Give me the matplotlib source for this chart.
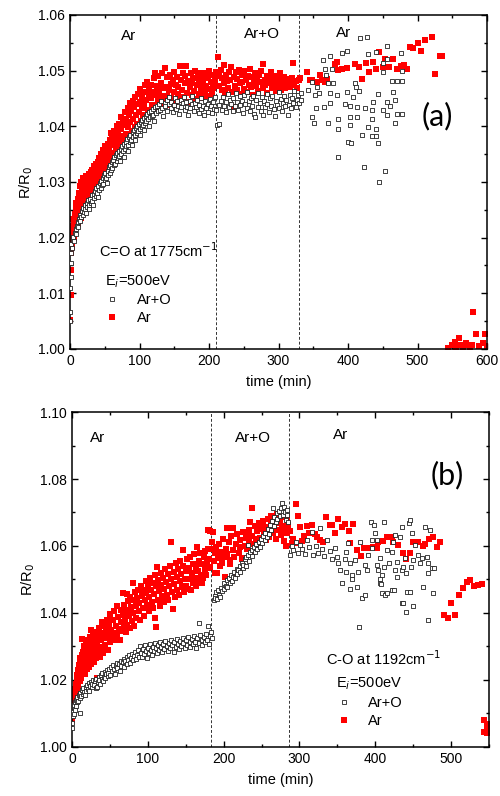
import numpy as np
import matplotlib
matplotlib.use('Agg')
import matplotlib.pyplot as plt
from matplotlib.ticker import MultipleLocator, FormatStrFormatter
from matplotlib.lines import Line2D

plt.rcParams['font.family'] = ['Liberation Sans', 'DejaVu Sans']

# ---------------- panel (a): C=O at 1775 cm-1 ----------------
# (time [min], R/R0)
a_aro = [
    (0, 1.0050), (0, 1.0066), (0, 1.0110), (1, 1.0130), (1, 1.0155), (2, 1.0172), (2, 1.0188), (3, 1.0181),
    (4, 1.0196), (5, 1.0202), (6, 1.0194), (7, 1.0208), (8, 1.0215), (9, 1.0206), (10, 1.0221), (11, 1.0228),
    (12, 1.0219), (13, 1.0233), (14, 1.0241), (15, 1.0229), (16, 1.0237), (17, 1.0248), (18, 1.0240), (19, 1.0253),
    (20, 1.0246), (21, 1.0258), (22, 1.0251), (23, 1.0244), (24, 1.0262), (25, 1.0255), (26, 1.0268), (27, 1.0259),
    (28, 1.0251), (29, 1.0270), (30, 1.0263), (31, 1.0276), (32, 1.0266), (33, 1.0259), (34, 1.0279), (35, 1.0271),
    (36, 1.0284), (37, 1.0275), (38, 1.0290), (39, 1.0281), (40, 1.0273), (41, 1.0293), (42, 1.0286), (43, 1.0298),
    (44, 1.0289), (45, 1.0302), (46, 1.0294), (47, 1.0308), (48, 1.0297), (49, 1.0312), (50, 1.0303), (51, 1.0317),
    (52, 1.0308), (53, 1.0298), (54, 1.0320), (55, 1.0312), (56, 1.0326), (57, 1.0316), (58, 1.0330), (59, 1.0321),
    (60, 1.0335), (61, 1.0325), (62, 1.0339), (63, 1.0330), (64, 1.0344), (65, 1.0333), (66, 1.0349), (67, 1.0338),
    (68, 1.0352), (69, 1.0343), (70, 1.0356), (71, 1.0347), (72, 1.0338), (73, 1.0360), (74, 1.0351), (75, 1.0364),
    (76, 1.0356), (77, 1.0345), (78, 1.0368), (79, 1.0360), (80, 1.0372), (81, 1.0364), (82, 1.0377), (83, 1.0367),
    (84, 1.0356), (85, 1.0381), (86, 1.0372), (87, 1.0385), (88, 1.0376), (89, 1.0366), (90, 1.0389), (91, 1.0380),
    (92, 1.0393), (93, 1.0384), (94, 1.0375), (95, 1.0397), (96, 1.0388), (97, 1.0401), (98, 1.0392), (99, 1.0405),
    (100, 1.0396), (101, 1.0384), (102, 1.0408), (103, 1.0399), (104, 1.0412), (105, 1.0403), (106, 1.0415), (107, 1.0394),
    (108, 1.0406), (109, 1.0419), (110, 1.0410), (111, 1.0422), (112, 1.0413), (113, 1.0401), (114, 1.0425), (115, 1.0416),
    (116, 1.0428), (118, 1.0419), (119, 1.0431), (120, 1.0421), (121, 1.0409), (123, 1.0434), (124, 1.0424), (125, 1.0437),
    (127, 1.0427), (128, 1.0440), (130, 1.0430), (131, 1.0445), (133, 1.0433), (134, 1.0419), (136, 1.0442), (137, 1.0436),
    (139, 1.0448), (140, 1.0428), (142, 1.0440), (143, 1.0452), (145, 1.0432), (146, 1.0444), (148, 1.0425), (150, 1.0438),
    (151, 1.0450), (153, 1.0431), (154, 1.0445), (156, 1.0436), (157, 1.0422), (159, 1.0447), (160, 1.0434), (162, 1.0441),
    (164, 1.0453), (165, 1.0429), (167, 1.0443), (168, 1.0435), (170, 1.0420), (172, 1.0446), (173, 1.0432), (175, 1.0440),
    (176, 1.0455), (178, 1.0427), (180, 1.0442), (181, 1.0434), (183, 1.0448), (185, 1.0424), (186, 1.0438), (188, 1.0431),
    (189, 1.0451), (191, 1.0436), (193, 1.0421), (194, 1.0445), (196, 1.0433), (198, 1.0440), (199, 1.0426), (201, 1.0449),
    (203, 1.0437), (204, 1.0423), (206, 1.0444), (207, 1.0431), (209, 1.0452), (210, 1.0430), (212, 1.0402), (214, 1.0404),
    (215, 1.0438), (217, 1.0446), (219, 1.0429), (220, 1.0452), (222, 1.0437), (224, 1.0444), (225, 1.0425), (227, 1.0458),
    (229, 1.0434), (230, 1.0447), (232, 1.0440), (234, 1.0427), (235, 1.0451), (237, 1.0436), (239, 1.0460), (240, 1.0443),
    (242, 1.0430), (244, 1.0454), (245, 1.0438), (247, 1.0446), (249, 1.0424), (250, 1.0457), (252, 1.0440), (254, 1.0433),
    (255, 1.0462), (257, 1.0445), (259, 1.0428), (260, 1.0450), (262, 1.0437), (264, 1.0455), (265, 1.0422), (266, 1.0417),
    (268, 1.0448), (270, 1.0434), (271, 1.0459), (273, 1.0441), (275, 1.0428), (276, 1.0452), (278, 1.0420), (279, 1.0446),
    (281, 1.0435), (283, 1.0458), (284, 1.0440), (286, 1.0426), (288, 1.0450), (289, 1.0437), (291, 1.0455), (293, 1.0431),
    (295, 1.0418), (296, 1.0445), (298, 1.0438), (300, 1.0461), (301, 1.0433), (303, 1.0449), (305, 1.0427), (306, 1.0442),
    (308, 1.0455), (310, 1.0436), (311, 1.0447), (313, 1.0420), (315, 1.0439), (316, 1.0457), (318, 1.0432), (320, 1.0450),
    (321, 1.0441), (323, 1.0463), (325, 1.0435), (326, 1.0448), (328, 1.0456), (330, 1.0442), (332, 1.0460), (333, 1.0447),
    (343, 1.0465), (348, 1.0480), (348, 1.0417), (351, 1.0406), (352, 1.0456), (354, 1.0433), (355, 1.0470), (358, 1.0460),
    (364, 1.0519), (365, 1.0434), (367, 1.0503), (368, 1.0492), (371, 1.0478), (371, 1.0406), (374, 1.0526), (374, 1.0460),
    (374, 1.0441), (377, 1.0503), (379, 1.0477), (384, 1.0456), (385, 1.0395), (385, 1.0345), (386, 1.0413), (391, 1.0531),
    (396, 1.0440), (398, 1.0535), (398, 1.0461), (400, 1.0372), (403, 1.0436), (403, 1.0417), (403, 1.0402), (405, 1.0370),
    (407, 1.0452), (410, 1.0478), (412, 1.0471), (413, 1.0434), (413, 1.0417), (416, 1.0463), (417, 1.0558), (420, 1.0384),
    (423, 1.0327), (424, 1.0433), (427, 1.0560), (429, 1.0530), (429, 1.0399), (435, 1.0429), (435, 1.0413), (435, 1.0382),
    (436, 1.0443), (440, 1.0395), (440, 1.0382), (441, 1.0533), (443, 1.0458), (443, 1.0370), (445, 1.0300), (450, 1.0513),
    (450, 1.0497), (450, 1.0430), (453, 1.0320), (456, 1.0544), (456, 1.0520), (456, 1.0443), (456, 1.0420), (460, 1.0436),
    (463, 1.0481), (465, 1.0461), (468, 1.0447), (468, 1.0406), (470, 1.0481), (470, 1.0422), (476, 1.0531), (477, 1.0500),
    (477, 1.0481), (478, 1.0422),
]

a_ar = [
    (0, 1.0052), (1, 1.0097), (1, 1.0142), (2, 1.0172), (2, 1.0188), (3, 1.0183), (3, 1.0204), (4, 1.0196),
    (4, 1.0221), (5, 1.0210), (5, 1.0234), (6, 1.0199), (6, 1.0226), (7, 1.0243), (7, 1.0215), (8, 1.0236),
    (8, 1.0252), (9, 1.0222), (9, 1.0262), (10, 1.0241), (10, 1.0230), (11, 1.0270), (11, 1.0249), (12, 1.0225),
    (12, 1.0258), (13, 1.0281), (13, 1.0240), (14, 1.0266), (14, 1.0292), (15, 1.0251), (15, 1.0275), (16, 1.0300),
    (16, 1.0236), (17, 1.0262), (17, 1.0284), (18, 1.0307), (18, 1.0255), (19, 1.0272), (19, 1.0291), (20, 1.0248),
    (20, 1.0280), (21, 1.0266), (21, 1.0303), (22, 1.0258), (22, 1.0287), (23, 1.0273), (23, 1.0310), (24, 1.0263),
    (24, 1.0295), (25, 1.0281), (25, 1.0269), (26, 1.0306), (26, 1.0287), (27, 1.0274), (27, 1.0296), (28, 1.0314),
    (28, 1.0280), (29, 1.0300), (29, 1.0289), (30, 1.0318), (30, 1.0277), (31, 1.0295), (31, 1.0307), (32, 1.0286),
    (32, 1.0322), (33, 1.0301), (34, 1.0291), (34, 1.0315), (35, 1.0328), (35, 1.0296), (36, 1.0310), (37, 1.0288),
    (37, 1.0333), (38, 1.0305), (38, 1.0320), (39, 1.0297), (40, 1.0336), (40, 1.0312), (41, 1.0326), (42, 1.0302),
    (42, 1.0343), (43, 1.0318), (44, 1.0333), (44, 1.0308), (45, 1.0350), (46, 1.0324), (46, 1.0340), (47, 1.0314),
    (48, 1.0358), (49, 1.0331), (49, 1.0347), (50, 1.0320), (51, 1.0364), (52, 1.0338), (52, 1.0354), (53, 1.0326),
    (54, 1.0368), (55, 1.0345), (56, 1.0361), (56, 1.0333), (57, 1.0375), (58, 1.0350), (59, 1.0388), (59, 1.0340),
    (60, 1.0366), (61, 1.0381), (62, 1.0352), (63, 1.0392), (63, 1.0370), (64, 1.0345), (65, 1.0385), (66, 1.0360),
    (67, 1.0400), (67, 1.0376), (68, 1.0354), (69, 1.0392), (70, 1.0368), (71, 1.0405), (72, 1.0383), (73, 1.0417),
    (73, 1.0362), (74, 1.0396), (75, 1.0378), (76, 1.0412), (77, 1.0370), (78, 1.0402), (79, 1.0425), (80, 1.0386),
    (81, 1.0414), (82, 1.0375), (83, 1.0432), (84, 1.0398), (85, 1.0420), (86, 1.0442), (86, 1.0383), (87, 1.0408),
    (88, 1.0428), (89, 1.0392), (90, 1.0445), (91, 1.0413), (92, 1.0434), (93, 1.0398), (94, 1.0452), (95, 1.0420),
    (96, 1.0440), (97, 1.0405), (98, 1.0458), (99, 1.0426), (100, 1.0444), (101, 1.0467), (102, 1.0410), (103, 1.0433),
    (104, 1.0452), (105, 1.0420), (106, 1.0462), (107, 1.0440), (108, 1.0474), (109, 1.0416), (110, 1.0448), (111, 1.0480),
    (112, 1.0430), (113, 1.0458), (114, 1.0468), (115, 1.0424), (116, 1.0450), (117, 1.0475), (118, 1.0438), (120, 1.0462),
    (121, 1.0486), (122, 1.0495), (123, 1.0433), (124, 1.0456), (125, 1.0472), (126, 1.0446), (127, 1.0490), (128, 1.0462),
    (130, 1.0440), (131, 1.0478), (132, 1.0454), (133, 1.0496), (134, 1.0468), (135, 1.0447), (137, 1.0504), (138, 1.0471),
    (139, 1.0455), (140, 1.0488), (141, 1.0438), (143, 1.0466), (144, 1.0492), (145, 1.0476), (146, 1.0450), (148, 1.0483),
    (149, 1.0461), (150, 1.0498), (151, 1.0443), (153, 1.0474), (154, 1.0489), (155, 1.0458), (156, 1.0470), (158, 1.0508),
    (159, 1.0447), (160, 1.0483), (161, 1.0465), (163, 1.0496), (164, 1.0452), (165, 1.0477), (166, 1.0490), (167, 1.0508),
    (168, 1.0460), (170, 1.0482), (171, 1.0444), (172, 1.0470), (174, 1.0495), (175, 1.0456), (176, 1.0478), (177, 1.0487),
    (179, 1.0463), (180, 1.0499), (181, 1.0449), (183, 1.0475), (184, 1.0491), (185, 1.0458), (186, 1.0481), (188, 1.0468),
    (189, 1.0496), (190, 1.0451), (191, 1.0477), (193, 1.0489), (194, 1.0462), (195, 1.0495), (196, 1.0473), (198, 1.0455),
    (199, 1.0486), (200, 1.0500), (201, 1.0467), (203, 1.0480), (204, 1.0458), (205, 1.0493), (206, 1.0468), (208, 1.0487),
    (209, 1.0476), (210, 1.0498), (213, 1.0524), (214, 1.0490), (215, 1.0472), (217, 1.0501), (218, 1.0465), (219, 1.0486),
    (221, 1.0478), (222, 1.0510), (223, 1.0459), (225, 1.0493), (226, 1.0481), (228, 1.0468), (229, 1.0497), (230, 1.0484),
    (232, 1.0506), (233, 1.0462), (235, 1.0434), (236, 1.0489), (237, 1.0473), (239, 1.0498), (240, 1.0466), (241, 1.0485),
    (243, 1.0502), (244, 1.0477), (246, 1.0458), (247, 1.0492), (248, 1.0480), (250, 1.0467), (251, 1.0499), (253, 1.0484),
    (254, 1.0461), (256, 1.0490), (257, 1.0474), (259, 1.0503), (260, 1.0470), (262, 1.0488), (263, 1.0457), (265, 1.0481),
    (266, 1.0496), (268, 1.0472), (269, 1.0486), (271, 1.0463), (272, 1.0493), (274, 1.0479), (275, 1.0500), (277, 1.0468),
    (278, 1.0512), (280, 1.0483), (281, 1.0474), (283, 1.0491), (284, 1.0460), (286, 1.0486), (287, 1.0477), (289, 1.0497),
    (290, 1.0468), (292, 1.0482), (293, 1.0471), (295, 1.0490), (296, 1.0463), (298, 1.0479), (299, 1.0486), (301, 1.0472),
    (302, 1.0495), (304, 1.0466), (305, 1.0481), (307, 1.0474), (308, 1.0488), (310, 1.0469), (311, 1.0480), (313, 1.0476),
    (315, 1.0485), (316, 1.0470), (318, 1.0478), (319, 1.0487), (321, 1.0513), (323, 1.0474), (325, 1.0482), (327, 1.0469),
    (330, 1.0483), (331, 1.0487), (341, 1.0497), (345, 1.0483), (348, 1.0483), (355, 1.0480), (360, 1.0492), (362, 1.0483),
    (367, 1.0480), (370, 1.0485), (381, 1.0512), (384, 1.0515), (386, 1.0501), (391, 1.0503), (398, 1.0504), (410, 1.0512),
    (416, 1.0507), (420, 1.0485), (426, 1.0514), (430, 1.0497), (436, 1.0516), (440, 1.0503), (445, 1.0533), (450, 1.0506),
    (453, 1.0520), (459, 1.0507), (465, 1.0520), (470, 1.0503), (476, 1.0508), (481, 1.0510), (485, 1.0503), (489, 1.0542),
    (494, 1.0540), (501, 1.0550), (505, 1.0535), (511, 1.0555), (521, 1.0560), (525, 1.0494), (532, 1.0526), (535, 1.0526),
    (544, 1.0002), (549, 1.0007), (554, 1.0013), (556, 1.0004), (559, 1.0020), (562, 1.0008), (566, 1.0004), (570, 1.0010),
    (573, 1.0007), (575, 1.0003), (578, 1.0008), (580, 1.0066), (584, 1.0027), (588, 1.0006), (594, 1.0010), (597, 1.0027),
    (600, 1.0005),
]

# ---------------- panel (b): C-O at 1192 cm-1 ----------------
b_aro = [
    (0, 1.0058), (0, 1.0072), (1, 1.0092), (1, 1.0104), (2, 1.0118), (2, 1.0098), (3, 1.0126), (4, 1.0110),
    (4, 1.0135), (5, 1.0122), (5, 1.0141), (6, 1.0133), (7, 1.0150), (8, 1.0138), (9, 1.0156), (10, 1.0101),
    (10, 1.0147), (11, 1.0162), (12, 1.0152), (13, 1.0170), (14, 1.0158), (15, 1.0176), (16, 1.0163), (17, 1.0155),
    (18, 1.0180), (19, 1.0168), (20, 1.0186), (21, 1.0173), (22, 1.0190), (23, 1.0166), (24, 1.0182), (25, 1.0195),
    (26, 1.0178), (27, 1.0188), (28, 1.0200), (29, 1.0185), (30, 1.0196), (31, 1.0177), (32, 1.0204), (33, 1.0180),
    (34, 1.0193), (35, 1.0209), (36, 1.0199), (37, 1.0188), (38, 1.0214), (39, 1.0203), (40, 1.0220), (41, 1.0196),
    (42, 1.0210), (43, 1.0224), (44, 1.0206), (45, 1.0217), (46, 1.0229), (47, 1.0211), (48, 1.0222), (49, 1.0234),
    (50, 1.0216), (52, 1.0240), (53, 1.0227), (54, 1.0246), (55, 1.0232), (57, 1.0219), (58, 1.0243), (59, 1.0252),
    (60, 1.0236), (62, 1.0248), (63, 1.0226), (64, 1.0258), (65, 1.0242), (67, 1.0253), (68, 1.0262), (69, 1.0238),
    (70, 1.0256), (72, 1.0268), (73, 1.0248), (74, 1.0260), (75, 1.0275), (77, 1.0252), (78, 1.0266), (79, 1.0278),
    (80, 1.0259), (82, 1.0271), (83, 1.0284), (84, 1.0262), (86, 1.0276), (87, 1.0289), (88, 1.0268), (90, 1.0300),
    (91, 1.0281), (92, 1.0270), (94, 1.0292), (95, 1.0278), (96, 1.0303), (98, 1.0286), (99, 1.0266), (100, 1.0296),
    (102, 1.0282), (103, 1.0306), (104, 1.0290), (106, 1.0274), (107, 1.0299), (108, 1.0287), (110, 1.0310), (111, 1.0294),
    (112, 1.0280), (114, 1.0303), (115, 1.0289), (116, 1.0313), (118, 1.0297), (119, 1.0284), (120, 1.0306), (122, 1.0292),
    (123, 1.0316), (125, 1.0300), (126, 1.0286), (128, 1.0309), (129, 1.0295), (131, 1.0320), (132, 1.0303), (134, 1.0284),
    (135, 1.0312), (137, 1.0298), (138, 1.0323), (140, 1.0306), (141, 1.0291), (143, 1.0315), (144, 1.0302), (146, 1.0326),
    (147, 1.0309), (149, 1.0295), (150, 1.0318), (152, 1.0304), (153, 1.0329), (155, 1.0312), (156, 1.0298), (158, 1.0321),
    (159, 1.0307), (161, 1.0332), (162, 1.0314), (164, 1.0296), (165, 1.0324), (167, 1.0310), (168, 1.0370), (169, 1.0335),
    (171, 1.0318), (172, 1.0303), (174, 1.0327), (175, 1.0313), (177, 1.0338), (178, 1.0320), (180, 1.0362), (181, 1.0306),
    (182, 1.0330), (183, 1.0342), (185, 1.0325),
    (187, 1.0440), (188, 1.0452), (189, 1.0446), (190, 1.0462), (191, 1.0441), (193, 1.0470), (194, 1.0455), (195, 1.0448),
    (197, 1.0476), (198, 1.0465), (200, 1.0489), (201, 1.0471), (203, 1.0482), (204, 1.0498), (205, 1.0478), (207, 1.0505),
    (208, 1.0490), (210, 1.0512), (211, 1.0496), (212, 1.0507), (214, 1.0523), (215, 1.0504), (217, 1.0530), (218, 1.0517),
    (219, 1.0528), (221, 1.0541), (222, 1.0522), (224, 1.0548), (225, 1.0535), (226, 1.0543), (228, 1.0560), (229, 1.0540),
    (230, 1.0566), (232, 1.0603), (232, 1.0573), (234, 1.0556), (235, 1.0582), (237, 1.0588), (238, 1.0570), (240, 1.0596),
    (241, 1.0582), (243, 1.0605), (244, 1.0590), (246, 1.0612), (248, 1.0597), (249, 1.0620), (251, 1.0610), (252, 1.0630),
    (254, 1.0618), (255, 1.0640), (257, 1.0628), (258, 1.0652), (260, 1.0637), (261, 1.0662), (263, 1.0648), (264, 1.0674),
    (265, 1.0713), (266, 1.0660), (267, 1.0688), (269, 1.0672), (270, 1.0698), (271, 1.0680), (273, 1.0705), (274, 1.0690),
    (276, 1.0712), (277, 1.0728), (278, 1.0694), (279, 1.0716), (281, 1.0700), (282, 1.0679), (283, 1.0708), (284, 1.0692),
    (285, 1.0672),
    (288, 1.0573), (290, 1.0600), (292, 1.0588), (295, 1.0612), (298, 1.0580), (301, 1.0603), (304, 1.0592), (307, 1.0575),
    (310, 1.0618), (313, 1.0598), (317, 1.0642), (318, 1.0573), (322, 1.0600), (325, 1.0579), (327, 1.0654), (330, 1.0590),
    (333, 1.0570), (336, 1.0618), (340, 1.0585), (343, 1.0560), (347, 1.0594), (349, 1.0567), (351, 1.0549), (354, 1.0528),
    (356, 1.0490), (360, 1.0560), (361, 1.0522), (362, 1.0582), (364, 1.0609), (367, 1.0549), (367, 1.0472), (369, 1.0513),
    (369, 1.0500), (373, 1.0558), (376, 1.0478), (377, 1.0522), (379, 1.0358), (380, 1.0612), (382, 1.0445), (387, 1.0543),
    (387, 1.0454), (389, 1.0528), (391, 1.0573), (394, 1.0672), (396, 1.0618), (396, 1.0594), (398, 1.0663), (400, 1.0639),
    (402, 1.0618), (402, 1.0543), (403, 1.0528), (406, 1.0564), (406, 1.0500), (406, 1.0490), (408, 1.0487), (409, 1.0513),
    (409, 1.0460), (411, 1.0537), (412, 1.0672), (413, 1.0454), (415, 1.0588), (416, 1.0460), (418, 1.0550), (422, 1.0582),
    (422, 1.0469), (424, 1.0612), (425, 1.0469), (426, 1.0633), (426, 1.0528), (428, 1.0552), (428, 1.0507), (433, 1.0627),
    (435, 1.0657), (435, 1.0528), (435, 1.0430), (436, 1.0537), (436, 1.0430), (439, 1.0564), (440, 1.0403), (441, 1.0519),
    (442, 1.0463), (444, 1.0669), (446, 1.0678), (446, 1.0463), (447, 1.0537), (449, 1.0639), (450, 1.0558), (450, 1.0421),
    (452, 1.0603), (456, 1.0573), (459, 1.0550), (461, 1.0564), (463, 1.0478), (466, 1.0657), (468, 1.0567), (470, 1.0549),
    (470, 1.0519), (470, 1.0379), (472, 1.0648), (475, 1.0534), (476, 1.0460), (477, 1.0534),
]

b_ar = [
    (0, 1.0080), (0, 1.0095), (1, 1.0118), (1, 1.0132), (2, 1.0148), (2, 1.0126), (3, 1.0162), (3, 1.0141),
    (4, 1.0172), (4, 1.0155), (5, 1.0187), (5, 1.0163), (6, 1.0201), (6, 1.0176), (7, 1.0192), (7, 1.0215),
    (8, 1.0183), (8, 1.0230), (9, 1.0205), (9, 1.0244), (10, 1.0196), (10, 1.0252), (11, 1.0218), (11, 1.0265),
    (12, 1.0238), (12, 1.0207), (13, 1.0322), (13, 1.0275), (14, 1.0226), (14, 1.0251), (15, 1.0283), (15, 1.0240),
    (16, 1.0300), (16, 1.0263), (17, 1.0218), (17, 1.0278), (18, 1.0295), (18, 1.0246), (19, 1.0310), (19, 1.0268),
    (20, 1.0232), (20, 1.0288), (21, 1.0256), (21, 1.0318), (22, 1.0274), (22, 1.0240), (23, 1.0301), (23, 1.0262),
    (24, 1.0329), (24, 1.0283), (25, 1.0248), (25, 1.0350), (26, 1.0292), (26, 1.0266), (27, 1.0312), (28, 1.0276),
    (28, 1.0338), (29, 1.0255), (29, 1.0298), (30, 1.0320), (31, 1.0284), (31, 1.0265), (32, 1.0343), (33, 1.0205),
    (33, 1.0306), (34, 1.0275), (35, 1.0330), (36, 1.0292), (36, 1.0355), (37, 1.0268), (38, 1.0318), (39, 1.0298),
    (39, 1.0372), (40, 1.0340), (41, 1.0282), (42, 1.0325), (43, 1.0360), (44, 1.0305), (45, 1.0345), (46, 1.0378),
    (47, 1.0290), (48, 1.0332), (49, 1.0365), (50, 1.0312), (50, 1.0398), (52, 1.0350), (53, 1.0322), (54, 1.0380),
    (55, 1.0340), (56, 1.0405), (57, 1.0318), (58, 1.0362), (59, 1.0420), (60, 1.0335), (61, 1.0388), (62, 1.0352),
    (63, 1.0320), (64, 1.0408), (65, 1.0372), (66, 1.0345), (67, 1.0460), (67, 1.0395), (68, 1.0358), (69, 1.0425),
    (70, 1.0380), (71, 1.0342), (72, 1.0458), (72, 1.0410), (73, 1.0365), (74, 1.0435), (75, 1.0392), (76, 1.0355),
    (77, 1.0448), (78, 1.0418), (79, 1.0375), (80, 1.0438), (81, 1.0490), (81, 1.0400), (82, 1.0362), (83, 1.0462),
    (84, 1.0420), (85, 1.0385), (86, 1.0445), (87, 1.0470), (88, 1.0405), (89, 1.0430), (90, 1.0378), (91, 1.0482),
    (92, 1.0450), (93, 1.0415), (94, 1.0468), (95, 1.0392), (96, 1.0438), (97, 1.0495), (98, 1.0460), (99, 1.0425),
    (100, 1.0478), (101, 1.0405), (102, 1.0448), (103, 1.0505), (104, 1.0470), (105, 1.0432), (106, 1.0490), (107, 1.0415),
    (108, 1.0458), (109, 1.0512), (110, 1.0385), (111, 1.0358), (111, 1.0480), (112, 1.0537), (113, 1.0440), (114, 1.0498),
    (115, 1.0465), (116, 1.0422), (117, 1.0520), (118, 1.0485), (119, 1.0450), (120, 1.0505), (121, 1.0432), (122, 1.0472),
    (123, 1.0530), (124, 1.0492), (125, 1.0455), (126, 1.0515), (127, 1.0440), (128, 1.0480), (129, 1.0540), (130, 1.0612),
    (131, 1.0500), (132, 1.0462), (133, 1.0412), (134, 1.0522), (135, 1.0488), (136, 1.0448), (137, 1.0548), (138, 1.0508),
    (139, 1.0470), (140, 1.0530), (141, 1.0455), (142, 1.0495), (143, 1.0556), (144, 1.0515), (145, 1.0478), (146, 1.0540),
    (147, 1.0588), (148, 1.0462), (149, 1.0502), (150, 1.0525), (151, 1.0482), (152, 1.0560), (153, 1.0472), (154, 1.0535),
    (155, 1.0500), (156, 1.0568), (157, 1.0470), (158, 1.0518), (159, 1.0545), (160, 1.0490), (161, 1.0575), (162, 1.0505),
    (163, 1.0538), (164, 1.0482), (165, 1.0597), (166, 1.0525), (167, 1.0555), (168, 1.0498), (169, 1.0580), (170, 1.0512),
    (171, 1.0545), (172, 1.0490), (173, 1.0504), (174, 1.0568), (175, 1.0528), (176, 1.0585), (177, 1.0512), (178, 1.0552),
    (179, 1.0590), (180, 1.0535), (180, 1.0648), (181, 1.0560), (182, 1.0537), (182, 1.0645),
    (184, 1.0590), (185, 1.0612), (186, 1.0642), (187, 1.0555), (188, 1.0578), (189, 1.0520), (190, 1.0598), (191, 1.0520),
    (192, 1.0565), (194, 1.0605), (195, 1.0540), (196, 1.0582), (198, 1.0550), (199, 1.0620), (200, 1.0568), (202, 1.0508),
    (203, 1.0592), (204, 1.0654), (205, 1.0575), (207, 1.0612), (208, 1.0545), (209, 1.0558), (210, 1.0630), (212, 1.0588),
    (213, 1.0654), (214, 1.0568), (216, 1.0605), (217, 1.0520), (218, 1.0635), (220, 1.0580), (221, 1.0597), (222, 1.0618),
    (224, 1.0560), (225, 1.0642), (226, 1.0564), (228, 1.0600), (229, 1.0625), (230, 1.0633), (231, 1.0590), (233, 1.0648),
    (234, 1.0612), (235, 1.0672), (236, 1.0585), (237, 1.0713), (238, 1.0630), (240, 1.0605), (241, 1.0660), (243, 1.0622),
    (244, 1.0645), (245, 1.0598), (247, 1.0668), (248, 1.0625), (249, 1.0650), (251, 1.0612), (252, 1.0675), (253, 1.0640),
    (255, 1.0658), (256, 1.0618), (258, 1.0682), (259, 1.0645), (260, 1.0628), (262, 1.0665), (263, 1.0690), (265, 1.0638),
    (266, 1.0672), (267, 1.0655), (269, 1.0620), (270, 1.0669), (271, 1.0695), (273, 1.0648), (274, 1.0678), (276, 1.0632),
    (277, 1.0660), (278, 1.0688), (280, 1.0615), (281, 1.0650), (282, 1.0600), (283, 1.0687), (284, 1.0640), (285, 1.0662),
    (288, 1.0645), (290, 1.0610), (292, 1.0622), (294, 1.0610), (295, 1.0725), (298, 1.0690), (301, 1.0657), (303, 1.0615),
    (306, 1.0630), (310, 1.0660), (313, 1.0640), (316, 1.0663), (320, 1.0635), (323, 1.0627), (327, 1.0618), (331, 1.0612),
    (335, 1.0687), (340, 1.0663), (343, 1.0663), (347, 1.0640), (351, 1.0680), (356, 1.0657), (360, 1.0666), (365, 1.0645),
    (367, 1.0610), (371, 1.0666), (376, 1.0588), (381, 1.0570), (385, 1.0594), (391, 1.0594), (397, 1.0597), (402, 1.0594),
    (404, 1.0612), (410, 1.0615), (415, 1.0627), (419, 1.0627), (422, 1.0627), (424, 1.0612), (430, 1.0603), (437, 1.0579),
    (441, 1.0561), (446, 1.0579), (450, 1.0612), (456, 1.0612), (463, 1.0600), (466, 1.0606), (471, 1.0621), (476, 1.0627),
    (481, 1.0597), (485, 1.0612), (490, 1.0394), (496, 1.0385), (500, 1.0430), (505, 1.0394), (511, 1.0454), (516, 1.0475),
    (521, 1.0493), (525, 1.0499), (530, 1.0481), (536, 1.0484), (541, 1.0487),
    (543, 1.0080), (543, 1.0045), (545, 1.0045), (547, 1.0060), (547, 1.0070), (548, 1.0042),
]

a_switch = [210, 330]
b_switch = [183, 286]


def style_axes(ax, xmax, ymin, ymax, ymajor, yminor):
    ax.set_xlim(0, xmax)
    ax.set_ylim(ymin, ymax)
    ax.xaxis.set_major_locator(MultipleLocator(100))
    ax.xaxis.set_minor_locator(MultipleLocator(50))
    ax.yaxis.set_major_locator(MultipleLocator(ymajor))
    ax.yaxis.set_minor_locator(MultipleLocator(yminor))
    ax.yaxis.set_major_formatter(FormatStrFormatter('%.2f'))
    ax.tick_params(which='both', direction='in', top=True, right=True, labelsize=10, width=1)
    ax.tick_params(which='major', length=4)
    ax.tick_params(which='minor', length=2.5)
    for s in ax.spines.values():
        s.set_linewidth(1.1)
    ax.set_xlabel('time (min)', fontsize=10.5, labelpad=5)
    ax.set_ylabel('R/R$_0$', fontsize=10.5, labelpad=2)


def draw(ax, aro, ar):
    ar = np.array(ar).T
    aro = np.array(aro).T
    ax.scatter(ar[0], ar[1], s=14, marker='s', color='#ff0000', linewidths=0, zorder=2)
    ax.scatter(aro[0], aro[1], s=10, marker='s', facecolors='white', edgecolors='#222222',
               linewidths=0.6, zorder=3)


def add_legend(ax, anchor):
    h = [Line2D([], [], ls='none', marker='s', ms=3.2, mfc='white', mec='#222222', mew=0.6),
         Line2D([], [], ls='none', marker='s', ms=3.8, mfc='#ff0000', mec='#ff0000', mew=0)]
    leg = ax.legend(h, ['Ar+O', 'Ar'], title='E$_i$=500eV', loc='upper left', bbox_to_anchor=anchor,
                    frameon=False, fontsize=10.5, title_fontsize=10.5, handlelength=1.0,
                    handletextpad=1.2, labelspacing=0.25, borderaxespad=0, alignment='left')
    return leg


fig = plt.figure(figsize=(5, 7.96), dpi=100)
ax1 = fig.add_axes([0.140, 0.5616, 0.834, 0.4196])
ax2 = fig.add_axes([0.144, 0.0616, 0.834, 0.4208])

# (a)
draw(ax1, a_aro, a_ar)
for x in a_switch:
    ax1.axvline(x, color='#333333', lw=0.7, ls=(0, (3, 2)), zorder=1)
style_axes(ax1, 600, 1.00, 1.06, 0.01, 0.005)
ax1.text(85, 1.0562, 'Ar', fontsize=11, ha='center', va='center')
ax1.text(276, 1.0566, 'Ar+O', fontsize=11, ha='center', va='center')
ax1.text(393, 1.0568, 'Ar', fontsize=11, ha='center', va='center')
ax1.text(528, 1.0418, '(a)', fontsize=22, ha='center', va='center', family=['Lato', 'DejaVu Sans'])
ax1.text(42, 1.0176, 'C=O at 1775cm$^{-1}$', fontsize=10.5, ha='left', va='center')
add_legend(ax1, (0.07, 0.245))

# (b)
draw(ax2, b_aro, b_ar)
for x in b_switch:
    ax2.axvline(x, color='#333333', lw=0.7, ls=(0, (3, 2)), zorder=1)
style_axes(ax2, 550, 1.00, 1.10, 0.02, 0.01)
ax2.text(34, 1.0922, 'Ar', fontsize=11, ha='center', va='center')
ax2.text(239, 1.0922, 'Ar+O', fontsize=11, ha='center', va='center')
ax2.text(354, 1.0931, 'Ar', fontsize=11, ha='center', va='center')
ax2.text(495, 1.0812, '(b)', fontsize=22, ha='center', va='center', family=['Lato', 'DejaVu Sans'])
ax2.text(335, 1.0263, 'C-O at 1192cm$^{-1}$', fontsize=10.5, ha='left', va='center')
add_legend(ax2, (0.62, 0.23))

fig.savefig('out.png', dpi=100)
